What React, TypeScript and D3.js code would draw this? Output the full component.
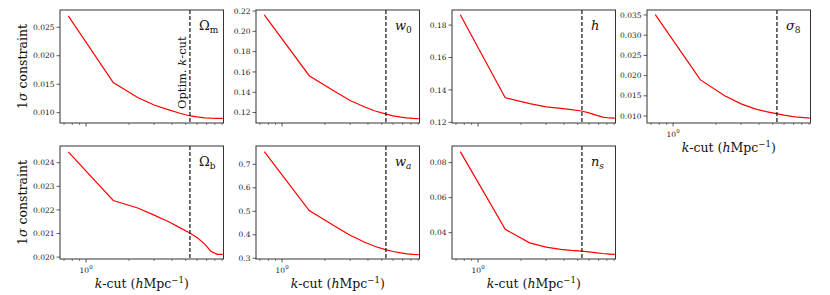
import React from 'react';
import * as d3 from 'd3';

// k-cut values (h/Mpc) and 1-sigma constraints
const kCut = [0.75, 1.55, 2.3, 3.0, 3.8, 4.5, 5.3, 6.0, 6.8, 7.5, 8.3, 9.1];
const omegaM = [0.027, 0.0153, 0.01267, 0.01135, 0.0105, 0.00995, 0.00947, 0.00925, 0.0091, 0.00903, 0.009, 0.009];
const w0 = [0.2163, 0.1563, 0.1415, 0.1318, 0.1255, 0.1215, 0.1187, 0.1168, 0.1155, 0.1147, 0.1142, 0.114];
const hubble = [0.1864, 0.1352, 0.1316, 0.1296, 0.1286, 0.1278, 0.127, 0.1258, 0.1243, 0.1232, 0.1227, 0.1226];
const sigma8 = [0.0351, 0.019, 0.015, 0.013, 0.0117, 0.0111, 0.0106, 0.0102, 0.0099, 0.0097, 0.0096, 0.0095];
const omegaB = [0.02446, 0.0224, 0.02208, 0.02178, 0.0215, 0.02126, 0.02103, 0.02083, 0.02055, 0.02025, 0.02012, 0.02012];
const wa = [0.7536, 0.503, 0.44, 0.398, 0.368, 0.35, 0.337, 0.329, 0.323, 0.319, 0.317, 0.316];
const ns = [0.0863, 0.0419, 0.0342, 0.0318, 0.0305, 0.0299, 0.0295, 0.029, 0.0285, 0.0281, 0.0278, 0.0276];

const optimK = 5.35;
const xDomain = [0.656, 9.2];
const xMajor = [1];
const xMinor = [0.7, 0.8, 0.9, 2, 3, 4, 5, 6, 7, 8, 9];

const yTicksOmegaM = [0.01, 0.015, 0.02, 0.025];
const yTicksW0 = [0.12, 0.14, 0.16, 0.18, 0.2, 0.22];
const yTicksH = [0.12, 0.14, 0.16, 0.18];
const yTicksSigma8 = [0.01, 0.015, 0.02, 0.025, 0.03, 0.035];
const yTicksOmegaB = [0.02, 0.021, 0.022, 0.023, 0.024];
const yTicksWa = [0.3, 0.4, 0.5, 0.6, 0.7];
const yTicksNs = [0.04, 0.06, 0.08];

const FONT = '"DejaVu Serif", serif';
const colLeft = [60, 256, 452, 647];
const rowTop = [10, 146];
const PW = 163.5;
const PH = 113;

const sub = (main: string, s: string, italicMain: boolean, italicSub: boolean) => (
  <>
    <tspan fontStyle={italicMain ? 'italic' : 'normal'}>{main}</tspan>
    <tspan fontSize={9} dy={3} fontStyle={italicSub ? 'italic' : 'normal'}>{s}</tspan>
  </>
);

const panels = [
  { col: 0, row: 0, values: omegaM, domain: [0.00819, 0.02803], ticks: yTicksOmegaM, fmt: '.3f', label: sub('Ω', 'm', false, false), ylabel: true, xlabels: false, optim: true },
  { col: 1, row: 0, values: w0, domain: [0.1097, 0.221], ticks: yTicksW0, fmt: '.2f', label: sub('w', '0', true, false), ylabel: false, xlabels: false, optim: false },
  { col: 2, row: 0, values: hubble, domain: [0.1196, 0.1893], ticks: yTicksH, fmt: '.2f', label: <tspan fontStyle="italic">h</tspan>, ylabel: false, xlabels: false, optim: false },
  { col: 3, row: 0, values: sigma8, domain: [0.00827, 0.03624], ticks: yTicksSigma8, fmt: '.3f', label: sub('σ', '8', true, false), ylabel: false, xlabels: true, optim: false },
  { col: 0, row: 1, values: omegaB, domain: [0.01992, 0.02471], ticks: yTicksOmegaB, fmt: '.3f', label: sub('Ω', 'b', false, false), ylabel: true, xlabels: true, optim: false },
  { col: 1, row: 1, values: wa, domain: [0.297, 0.778], ticks: yTicksWa, fmt: '.1f', label: sub('w', 'a', true, true), ylabel: false, xlabels: true, optim: false },
  { col: 2, row: 1, values: ns, domain: [0.02497, 0.0895], ticks: yTicksNs, fmt: '.2f', label: sub('n', 's', true, true), ylabel: false, xlabels: true, optim: false },
];

const Panel = ({ p, idx }: { p: any; idx: number }) => {
  const left = colLeft[p.col];
  const top = rowTop[p.row];
  const x = d3.scaleLog().domain(xDomain).range([left, left + PW]);
  const y = d3.scaleLinear().domain(p.domain).range([top + PH, top]);
  const line = d3.line<number>()
    .x((_, i) => x(kCut[i]))
    .y(d => y(d));
  const fmt = d3.format(p.fmt);
  const bottom = top + PH;
  const clipId = `clip-${idx}`;
  const xo = x(optimK);

  return (
    <g>
      <defs>
        <clipPath id={clipId}>
          <rect x={left} y={top} width={PW} height={PH} />
        </clipPath>
      </defs>
      <path d={line(p.values) || ''} fill="none" stroke="#ff0000" strokeWidth={1.2} clipPath={`url(#${clipId})`} />
      <line x1={xo} x2={xo} y1={top} y2={bottom} stroke="#111" strokeWidth={1.2} strokeDasharray="4,2" />
      <rect x={left} y={top} width={PW} height={PH} fill="none" stroke="#333" strokeWidth={1} />

      {/* y ticks */}
      {p.ticks.map((t: number) => (
        <g key={t}>
          <line x1={left - 3.5} x2={left} y1={y(t)} y2={y(t)} stroke="#333" strokeWidth={0.8} />
          <text x={left - 5.5} y={y(t)} dy="0.35em" textAnchor="end" fontSize={7.5} fontFamily={FONT} fill="#222">{fmt(t)}</text>
        </g>
      ))}

      {/* x ticks */}
      {xMajor.map(t => (
        <line key={`M${t}`} x1={x(t)} x2={x(t)} y1={bottom} y2={bottom + 3.5} stroke="#333" strokeWidth={0.8} />
      ))}
      {xMinor.map(t => (
        <line key={`m${t}`} x1={x(t)} x2={x(t)} y1={bottom} y2={bottom + 2} stroke="#333" strokeWidth={0.6} />
      ))}
      {p.xlabels && xMajor.map(t => (
        <text key={`l${t}`} x={x(t)} y={bottom + 13.5} textAnchor="middle" fontSize={7.5} fontFamily={FONT} fill="#222">
          10<tspan fontSize={5.5} dy={-3.5}>0</tspan>
        </text>
      ))}
      {p.xlabels && (
        <text x={left + PW / 2} y={bottom + 29} textAnchor="middle" fontSize={12.5} fontFamily={FONT} fill="#111">
          <tspan fontStyle="italic">k</tspan>-cut (<tspan fontStyle="italic">h</tspan>Mpc<tspan fontSize={8.5} dy={-5}>−1</tspan><tspan dy={5}>)</tspan>
        </text>
      )}
      {p.ylabel && (
        <text transform={`translate(27,${top + PH / 2}) rotate(-90)`} textAnchor="middle" fontSize={12.5} fontFamily={FONT} fill="#111">
          1<tspan fontStyle="italic">σ</tspan> constraint
        </text>
      )}
      {p.optim && (
        <text transform={`translate(${xo - 4},${bottom - 14}) rotate(-90)`} textAnchor="start" fontSize={11.5} fontFamily={FONT} fill="#111">
          Optim. <tspan fontStyle="italic">k</tspan>-cut
        </text>
      )}
      <text x={left + 0.85 * PW} y={top + 20} fontSize={13} fontFamily={FONT} fill="#111">{p.label}</text>
    </g>
  );
};

export default function App() {
  return (
    <svg width={830} height={295} style={{ position: 'absolute', left: 0, top: 0, background: '#fff' }}>
      {panels.map((p, i) => <Panel key={i} p={p} idx={i} />)}
    </svg>
  );
}
